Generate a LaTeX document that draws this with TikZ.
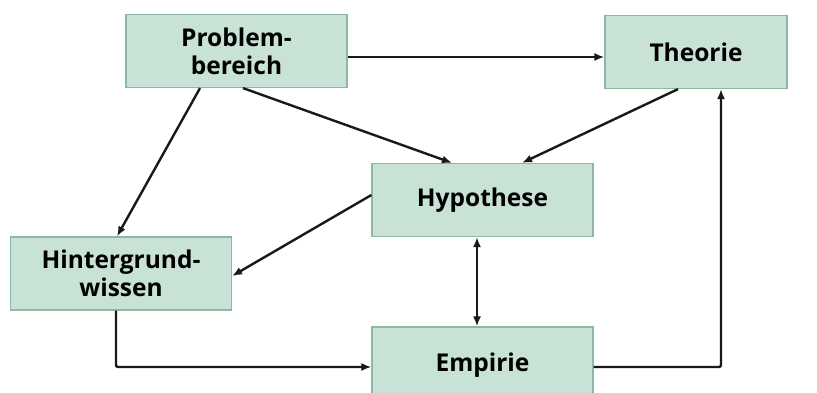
\documentclass[tikz,border=0pt]{standalone}
\usepackage{fontspec}
\setmainfont{Open Sans}
\usetikzlibrary{arrows.meta}
\definecolor{boxfill}{RGB}{200,226,214}
\definecolor{boxline}{RGB}{140,184,164}
\definecolor{linecol}{RGB}{25,25,25}
\tikzset{
  kasten/.style={draw=boxline,line width=1.2pt,fill=boxfill,minimum width=221pt,minimum height=73pt,
    align=center,inner sep=0pt,font=\fontsize{24.5}{28}\selectfont\bfseries},
  pfeil/.style={draw=linecol,line width=2.4pt,-{Latex[length=10pt,width=8pt]}}
}
\begin{document}
\begin{tikzpicture}[x=1pt,y=-1pt]
\useasboundingbox[fill=white] (0,0) rectangle (817,392);
\clip (0,0) rectangle (817,392);

\node[kasten] (prob) at (236.5,51) {Problem-\\bereich};
\node[kasten,minimum width=182pt] (theo) at (696,52) {Theorie};
\node[kasten] (hyp) at (482.5,200) {Hypothese};
\node[kasten] (hint) at (121,273.5) {Hintergrund-\\wissen};
\node[kasten,minimum height=76pt] (emp) at (482.5,365) {Empirie};

\draw[pfeil] ([yshift=-6pt]prob.east) -- ([yshift=-6pt]prob.east -| theo.west);
\draw[pfeil] ([xshift=-36.5pt]prob.south) -- ([xshift=-4pt]hint.north);
\draw[pfeil] ([xshift=6.5pt]prob.south) -- ([xshift=-30.5pt]hyp.north);
\draw[pfeil] ([xshift=-18pt]theo.south) -- ([xshift=39.5pt]hyp.north);
\draw[pfeil] ([yshift=5pt]hyp.west) -- ([yshift=-2.5pt]hint.east);
\draw[pfeil,{Latex[length=10pt,width=8pt]}-{Latex[length=10pt,width=8pt]}] ([xshift=-5.5pt]hyp.south) -- ([xshift=-5.5pt]emp.north);
\draw[pfeil,rounded corners=2pt] ([xshift=-5pt]hint.south) |- ([yshift=-2pt]emp.west);
\draw[pfeil,rounded corners=2pt] ([yshift=-2pt]emp.east) -| ([xshift=25pt]theo.south);
\end{tikzpicture}
\end{document}
